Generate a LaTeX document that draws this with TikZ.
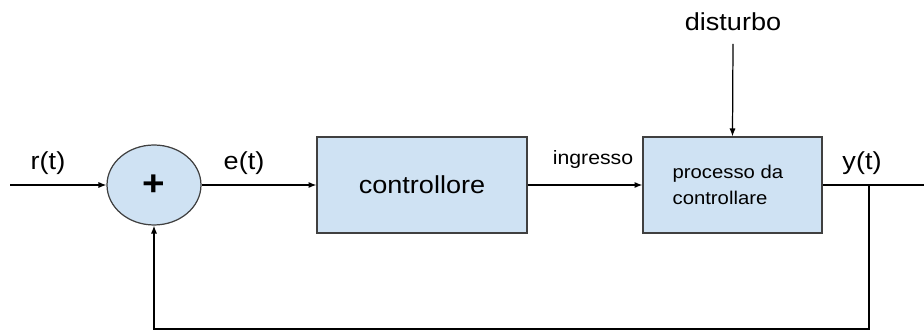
\documentclass[tikz,border=0pt]{standalone}
\usepackage{fontspec}
\setmainfont{Liberation Sans}[FakeStretch=1.1]
\usetikzlibrary{shapes.geometric,arrows.meta}
\definecolor{boxblue}{HTML}{CFE2F3}
\definecolor{edge}{HTML}{404040}
\begin{document}
\begin{tikzpicture}[x=0.02cm, y=-0.02cm, line width=0.7pt,
    block/.style={draw=edge, fill=boxblue, minimum height=1.92cm, inner sep=0pt},
    lbl/.style={font=\fontsize{14}{16}\selectfont, inner sep=1pt},
    tip/.style={-{Latex[length=4.5pt,width=3.5pt]}}]
    \useasboundingbox (0,0) rectangle (924,334);
    \node[ellipse, draw=edge, fill=boxblue, minimum width=1.88cm, minimum height=1.6cm, inner sep=0pt, font=\fontsize{20}{22}\selectfont\bfseries] (sum) at (154,185) {+};
    \node[block, minimum width=4.2cm, font=\fontsize{14}{16}\selectfont] (ctrl) at (422,185) {controllore};
    \node[block, minimum width=3.58cm] (proc) at (732.5,185) {};
    \node[anchor=west, align=left, font=\fontsize{10.5}{14.5}\selectfont, inner sep=0pt] (proctext) at (672,185) {processo da\\controllare};
    \node[lbl] (dist) at (733,22) {disturbo};
    \node[lbl] (rlbl) at (48,163) {r(t)};
    \node[lbl] (elbl) at (244,163) {e(t)};
    \node[font=\fontsize{11}{13}\selectfont, inner sep=1pt] (ulbl) at (593,160) {ingresso};
    \node[lbl] (ylbl) at (862,163) {y(t)};
    \coordinate (in) at (10,185);
    \coordinate (out) at (924,185);
    \coordinate (dtop) at (733,44);
    \coordinate (tap) at (869,185);
    \coordinate (back) at (869,329);
    \draw[tip] (in) -- (sum);
    \draw[tip] (sum) -- (ctrl);
    \draw[tip] (ctrl) -- (proc);
    \draw[tip] (dtop) -- (proc.north);
    \draw (proc) -- (out);
    \draw[tip] (tap) -- (back) -| (sum.south);
\end{tikzpicture}
\end{document}
